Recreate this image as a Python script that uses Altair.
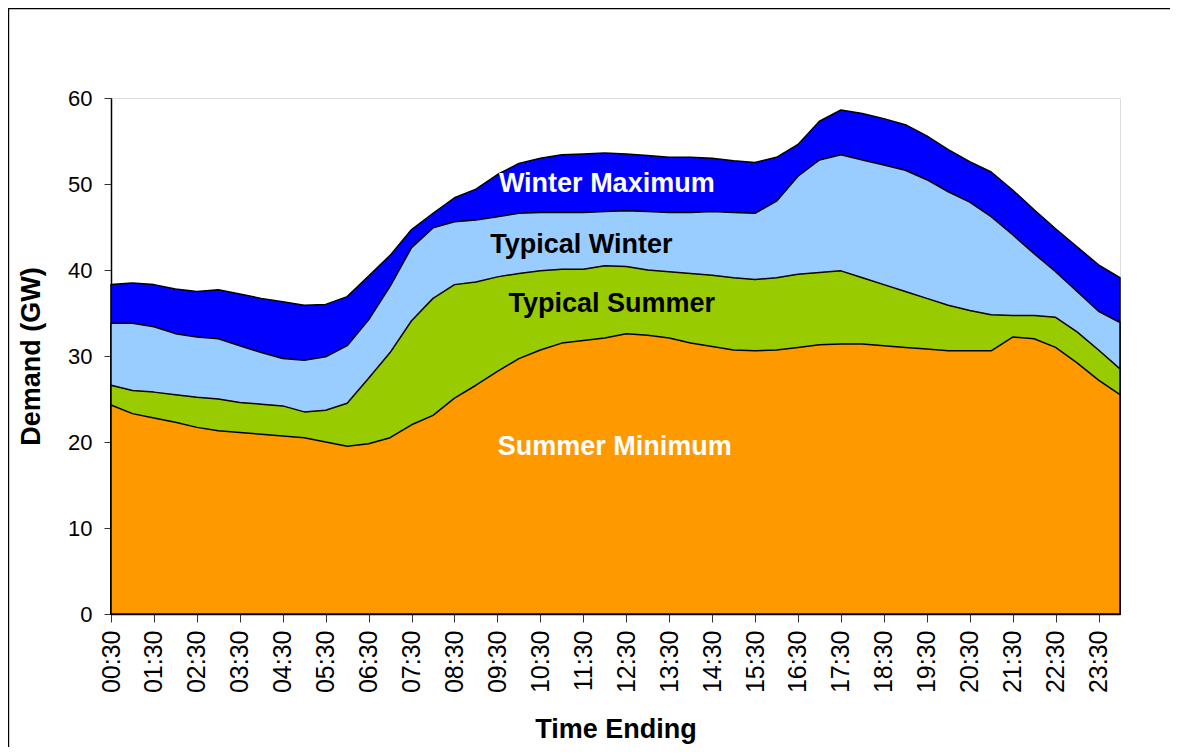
import altair as alt
import pandas as pd

times = ["00:30", "01:00", "01:30", "02:00", "02:30", "03:00", "03:30", "04:00",
         "04:30", "05:00", "05:30", "06:00", "06:30", "07:00", "07:30", "08:00",
         "08:30", "09:00", "09:30", "10:00", "10:30", "11:00", "11:30", "12:00",
         "12:30", "13:00", "13:30", "14:00", "14:30", "15:00", "15:30", "16:00",
         "16:30", "17:00", "17:30", "18:00", "18:30", "19:00", "19:30", "20:00",
         "20:30", "21:00", "21:30", "22:00", "22:30", "23:00", "23:30", "24:00"]

tick_labels = ["00:30", "01:30", "02:30", "03:30", "04:30", "05:30", "06:30", "07:30",
               "08:30", "09:30", "10:30", "11:30", "12:30", "13:30", "14:30", "15:30",
               "16:30", "17:30", "18:30", "19:30", "20:30", "21:30", "22:30", "23:30"]

winter_max = [38.3, 38.5, 38.3, 37.8, 37.5, 37.7, 37.2, 36.7, 36.3, 35.9, 36.0, 36.9,
              39.3, 41.7, 44.7, 46.6, 48.4, 49.4, 51.1, 52.4, 53.0, 53.4, 53.5, 53.6,
              53.5, 53.3, 53.1, 53.1, 53.0, 52.7, 52.5, 53.1, 54.6, 57.3, 58.6, 58.2,
              57.6, 56.9, 55.6, 54.0, 52.6, 51.4, 49.3, 47.0, 44.8, 42.7, 40.6, 39.1]

typical_winter = [33.8, 33.8, 33.4, 32.6, 32.2, 32.0, 31.2, 30.4, 29.7, 29.5, 29.9, 31.2,
                  34.2, 38.1, 42.6, 44.9, 45.6, 45.8, 46.2, 46.6, 46.7, 46.7, 46.7, 46.8,
                  46.9, 46.8, 46.7, 46.7, 46.8, 46.7, 46.6, 48.0, 50.9, 52.8, 53.4, 52.8,
                  52.2, 51.6, 50.5, 49.1, 47.9, 46.2, 44.1, 41.9, 39.8, 37.5, 35.2, 33.9]

typical_summer = [26.6, 26.0, 25.8, 25.5, 25.2, 25.0, 24.6, 24.4, 24.2, 23.5, 23.7, 24.5,
                  27.4, 30.4, 34.1, 36.7, 38.3, 38.6, 39.2, 39.6, 39.9, 40.1, 40.1, 40.5,
                  40.4, 40.0, 39.8, 39.6, 39.4, 39.1, 38.9, 39.1, 39.5, 39.7, 39.9, 39.1,
                  38.3, 37.5, 36.7, 35.9, 35.3, 34.8, 34.7, 34.7, 34.5, 32.8, 30.7, 28.5]

summer_min = [24.3, 23.3, 22.8, 22.3, 21.7, 21.3, 21.1, 20.9, 20.7, 20.5, 20.0, 19.5,
              19.8, 20.5, 22.0, 23.1, 25.1, 26.6, 28.2, 29.7, 30.7, 31.5, 31.8, 32.1,
              32.6, 32.4, 32.1, 31.5, 31.1, 30.7, 30.6, 30.7, 31.0, 31.3, 31.4, 31.4,
              31.2, 31.0, 30.8, 30.6, 30.6, 30.6, 32.2, 32.0, 31.0, 29.2, 27.2, 25.5]

series_names = ["Winter Maximum", "Typical Winter", "Typical Summer", "Summer Minimum"]
series_values = [winter_max, typical_winter, typical_summer, summer_min]
series_colors = ["#0000FF", "#99CCFF", "#99CC00", "#FF9900"]

label_texts = ["Winter Maximum", "Typical Winter", "Typical Summer", "Summer Minimum"]
label_times = ["12:00", "11:30", "12:00", "12:00"]
label_values = [50.0, 42.9, 36.0, 19.4]
label_dx = [2, -2, 7, 10]
label_colors = ["white", "black", "black", "white"]

FONT = "Liberation Sans"

x_enc = alt.X("time:O", sort=times,
              scale=alt.Scale(type="point", padding=0),
              axis=alt.Axis(values=tick_labels, labelAngle=-90, title="Time Ending",
                            labelFontSize=25, labelFont=FONT, labelColor="black",
                            labelPadding=8, tickSize=8, tickColor="#333333",
                            domainColor="black", domainWidth=1.5,
                            titleFontSize=27, titleFont=FONT, titleFontWeight="bold",
                            titleColor="black", titlePadding=24, grid=False))
y_enc = alt.Y("value:Q",
              scale=alt.Scale(domain=[0, 60], nice=False),
              axis=alt.Axis(values=[0, 10, 20, 30, 40, 50, 60], title="Demand (GW)",
                            labelFontSize=22, labelFont=FONT, labelColor="black",
                            labelPadding=12, tickSize=7, tickColor="#333333",
                            domainColor="black", domainWidth=1.5,
                            titleFontSize=27, titleFont=FONT, titleFontWeight="bold",
                            titleColor="black", titlePadding=22, grid=False))

layers = []
for name, vals, col in zip(series_names, series_values, series_colors):
    df = pd.DataFrame({"time": times, "value": vals, "series": name})
    layers.append(
        alt.Chart(df).mark_area(color=col, stroke="black", strokeWidth=1.5,
                                strokeJoin="round", opacity=1)
        .encode(x=x_enc, y=y_enc)
    )

lab_df = pd.DataFrame({"time": label_times, "value": label_values,
                       "text": label_texts, "dx": label_dx, "col": label_colors})
for i in range(len(label_texts)):
    layers.append(
        alt.Chart(lab_df.iloc[[i]]).mark_text(
            font=FONT, fontSize=27, fontWeight="bold", align="center",
            baseline="middle", dx=label_dx[i], color=label_colors[i])
        .encode(x=alt.X("time:O", sort=times), y=alt.Y("value:Q"), text="text:N")
    )

frame_df = pd.DataFrame({"a": [0]})
frame_top = alt.Chart(frame_df).mark_rule(color="black", strokeWidth=1.2).encode(
    x=alt.value(-103), x2=alt.value(1059), y=alt.value(-89.4))
frame_left = alt.Chart(frame_df).mark_rule(color="black", strokeWidth=1.2).encode(
    x=alt.value(-102.4), y=alt.value(-90), y2=alt.value(649))
layers += [frame_top, frame_left]

chart = alt.layer(*layers).properties(
    width=1009, height=516,
    padding={"left": 103, "top": 90, "right": 50, "bottom": 133},
    autosize=alt.AutoSizeParams(type="none"),
).configure_view(stroke="#999999", strokeWidth=1.5).configure(background="white")

chart.save("out.html", embed_options={"renderer": "svg", "actions": False})
